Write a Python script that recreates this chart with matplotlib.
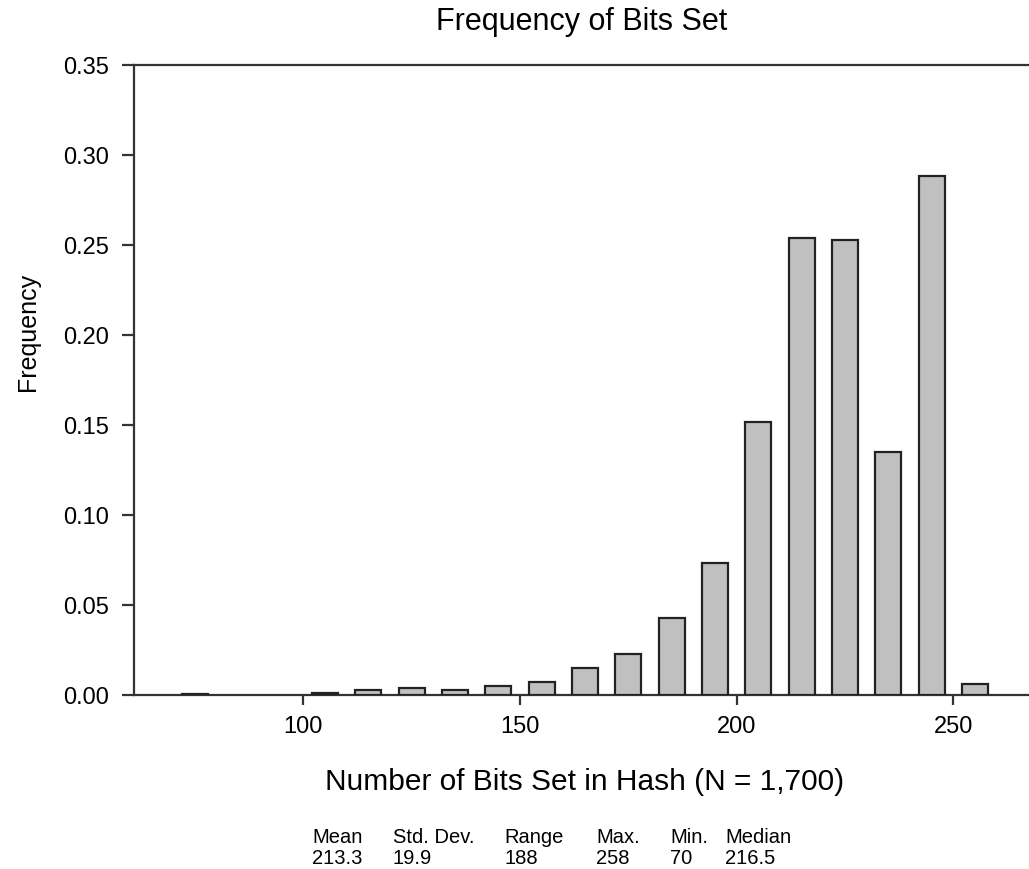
import numpy as np
import matplotlib.pyplot as plt

plt.rcParams['font.family'] = ['Liberation Sans', 'DejaVu Sans']

# bin centres (width 10) and frequency
bits = [75, 85, 95, 105, 115, 125, 135, 145, 155, 165, 175, 185, 195, 205, 215, 225, 235, 245, 255]
freq = [0.0006, 0.0, 0.0, 0.0012, 0.0030, 0.0038, 0.0030, 0.0052, 0.0073, 0.0148, 0.0230,
        0.0428, 0.0735, 0.1515, 0.2540, 0.2530, 0.1350, 0.2885, 0.0060]

stat_names = ['Mean', 'Std. Dev.', 'Range', 'Max.', 'Min.', 'Median']
stat_values = ['213.3', '19.9', '188', '258', '70', '216.5']
stat_x = [312, 393, 504, 596, 670, 725]   # pixel column of each stat

W, H = 1029, 869
fig = plt.figure(figsize=(W / 100, H / 100), dpi=100)
ax = fig.add_axes([134 / W, 1 - 695 / H, (W - 134) / W, (695 - 65) / H])

# empty bins are not drawn at all
x_nz = [b for b, f in zip(bits, freq) if f > 0]
f_nz = [f for f in freq if f > 0]
ax.bar(x_nz, f_nz, width=6, color='#c0c0c0', edgecolor='#222222', linewidth=1.6, zorder=3)

ax.set_xlim(60.9, 267.5)
ax.set_ylim(0, 0.35)
ax.set_xticks([100, 150, 200, 250])
yt = np.arange(0, 0.351, 0.05)
ax.set_yticks(yt)
ax.set_yticklabels(['{:.2f}'.format(v) for v in yt])

for s in ['left', 'top', 'bottom']:
    ax.spines[s].set_color('#333333')
    ax.spines[s].set_linewidth(1.6)
ax.spines['right'].set_visible(False)

ax.tick_params(axis='y', direction='out', length=9, width=1.6, color='#333333',
               labelsize=17, pad=9)
ax.tick_params(axis='x', direction='out', length=7, width=1.6, color='#333333',
               labelsize=17, pad=8)

fig.text(582 / W, 1 - 22 / H, 'Frequency of Bits Set', ha='center', va='center', fontsize=22)
fig.text(28 / W, 1 - 332 / H, 'Frequency', ha='center', va='center', rotation=90, fontsize=18)
fig.text(585 / W, 1 - 782 / H, 'Number of Bits Set in Hash (N = 1,700)',
         ha='center', va='center', fontsize=21.5)

for name, val, px in zip(stat_names, stat_values, stat_x):
    fig.text(px / W, 1 - 843 / H, name, ha='left', va='baseline', fontsize=14.5)
    fig.text(px / W, 1 - 864 / H, val, ha='left', va='baseline', fontsize=14.5)

plt.savefig('out.png', dpi=100)
